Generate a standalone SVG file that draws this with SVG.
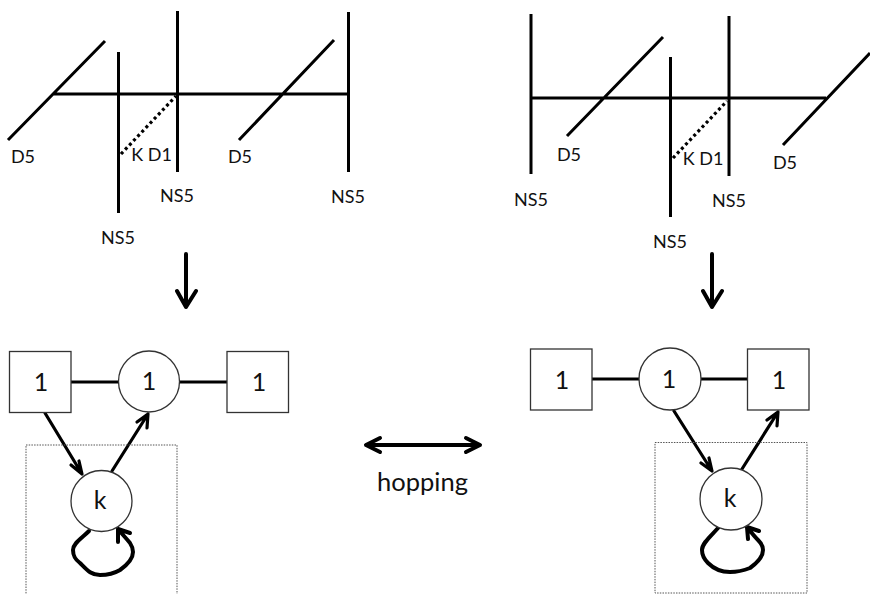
<svg xmlns="http://www.w3.org/2000/svg" width="870" height="594" viewBox="0 0 870 594">
<style>
text{font-family:"Lato","Open Sans","Liberation Sans",sans-serif;fill:#111;text-anchor:middle}
.l{font-size:18px}.n{font-size:25px}
.w{stroke:#000;stroke-width:3;fill:none}
.d{stroke:#000;stroke-width:3.200;fill:none;stroke-dasharray:3 3}
.a{stroke:#000;stroke-width:3.200;fill:none;stroke-linecap:round;stroke-linejoin:round}
.b{stroke:#000;stroke-width:4;fill:none;stroke-linecap:round;stroke-linejoin:round}
.s{fill:#fff;stroke:#333;stroke-width:1.300}
.x{fill:none;stroke:#555;stroke-width:1;stroke-dasharray:1.500 1.200}
</style>
<rect width="870" height="594" fill="#fff"/>
<g id="brane-left">
<path class="w" d="M8 140L105 41M118.500 52V213M177.500 11V172M348.500 12V172M53 94H348.500M239 140L334 40"/>
<path class="d" d="M121 154L176 96"/>
<text class="l" x="23" y="163">D5</text><text class="l" x="151.500" y="161">K D1</text><text class="l" x="240" y="163">D5</text>
<text class="l" x="177" y="202">NS5</text><text class="l" x="348" y="203">NS5</text><text class="l" x="118" y="244">NS5</text>
</g>
<g id="brane-right">
<path class="w" d="M531 14V174M567 136L663 37M670.500 57V217M729 16V176M531 98H826M783 145L870 53"/>
<path class="d" d="M673 158L727 101"/>
<text class="l" x="569" y="161">D5</text><text class="l" x="703" y="165">K D1</text><text class="l" x="785" y="169">D5</text>
<text class="l" x="531" y="206">NS5</text><text class="l" x="729" y="207">NS5</text><text class="l" x="670" y="248">NS5</text>
</g>
<g id="connectors">
<path class="b" d="M186 254V307M177 291L186 307L196 291M712 254V307M703 291L712 307L722 291"/>
<path class="a" d="M71 382H119M179 382H227M592 379H640M701 379H747"/>
<path class="a" d="M45 413L82 474M71 465L82 474L79 461M112 471L148 414M137 422L148 414L147 428"/>
<path class="a" d="M674 411L712 471M701 463L712 471L709 458M742 469L778 412M767 420L778 412L777 426"/>
<path class="b" d="M89 531C82 538 73 543 73 550C73 557 76 560 80 563C87 570 91 575 100 575C108 575 115 573 120 570C127 565 133 558 133 552C133 548 132 546 130 543C126 538 122 534 118 529M118 542L118 529L130 533"/>
<path class="b" d="M718 528C711 536 702 543 702 550C702 556 704 559 708 563C714 569 721 572 730 572C738 572 745 570 750 568C757 563 763 556 763 550C763 546 761 543 758 540C754 536 751 532 747 527M748 539L747 527L759 531"/>
<path class="b" d="M367 445H479M380 438L366 445L380 452M466 438L480 445L466 452"/>
</g>
<g id="node-left-a"><rect class="s" x="9.500" y="351.500" width="61.500" height="61"/><text class="n" x="41" y="391">1</text></g>
<g id="node-left-b"><circle class="s" cx="149" cy="381.500" r="30.500"/><text class="n" x="149" y="390">1</text></g>
<g id="node-left-c"><rect class="s" x="227" y="351.500" width="61.500" height="61"/><text class="n" x="259" y="391">1</text></g>
<g id="node-left-k"><rect class="x" x="26" y="445" width="151" height="150"/><circle class="s" cx="101.500" cy="501" r="30.500"/><text class="n" x="100" y="509">k</text></g>
<g id="node-right-a"><rect class="s" x="530.500" y="349" width="61.500" height="61"/><text class="n" x="562" y="389">1</text></g>
<g id="node-right-b"><circle class="s" cx="670" cy="379" r="31"/><text class="n" x="669" y="388">1</text></g>
<g id="node-right-c"><rect class="s" x="747.500" y="349" width="61.500" height="61"/><text class="n" x="779" y="389">1</text></g>
<g id="node-right-k"><rect class="x" x="655" y="442.500" width="152" height="150.500"/><circle class="s" cx="731" cy="499" r="31"/><text class="n" x="730" y="507">k</text></g>
<text x="422.500" y="491" font-size="25.500">hopping</text>
</svg>
